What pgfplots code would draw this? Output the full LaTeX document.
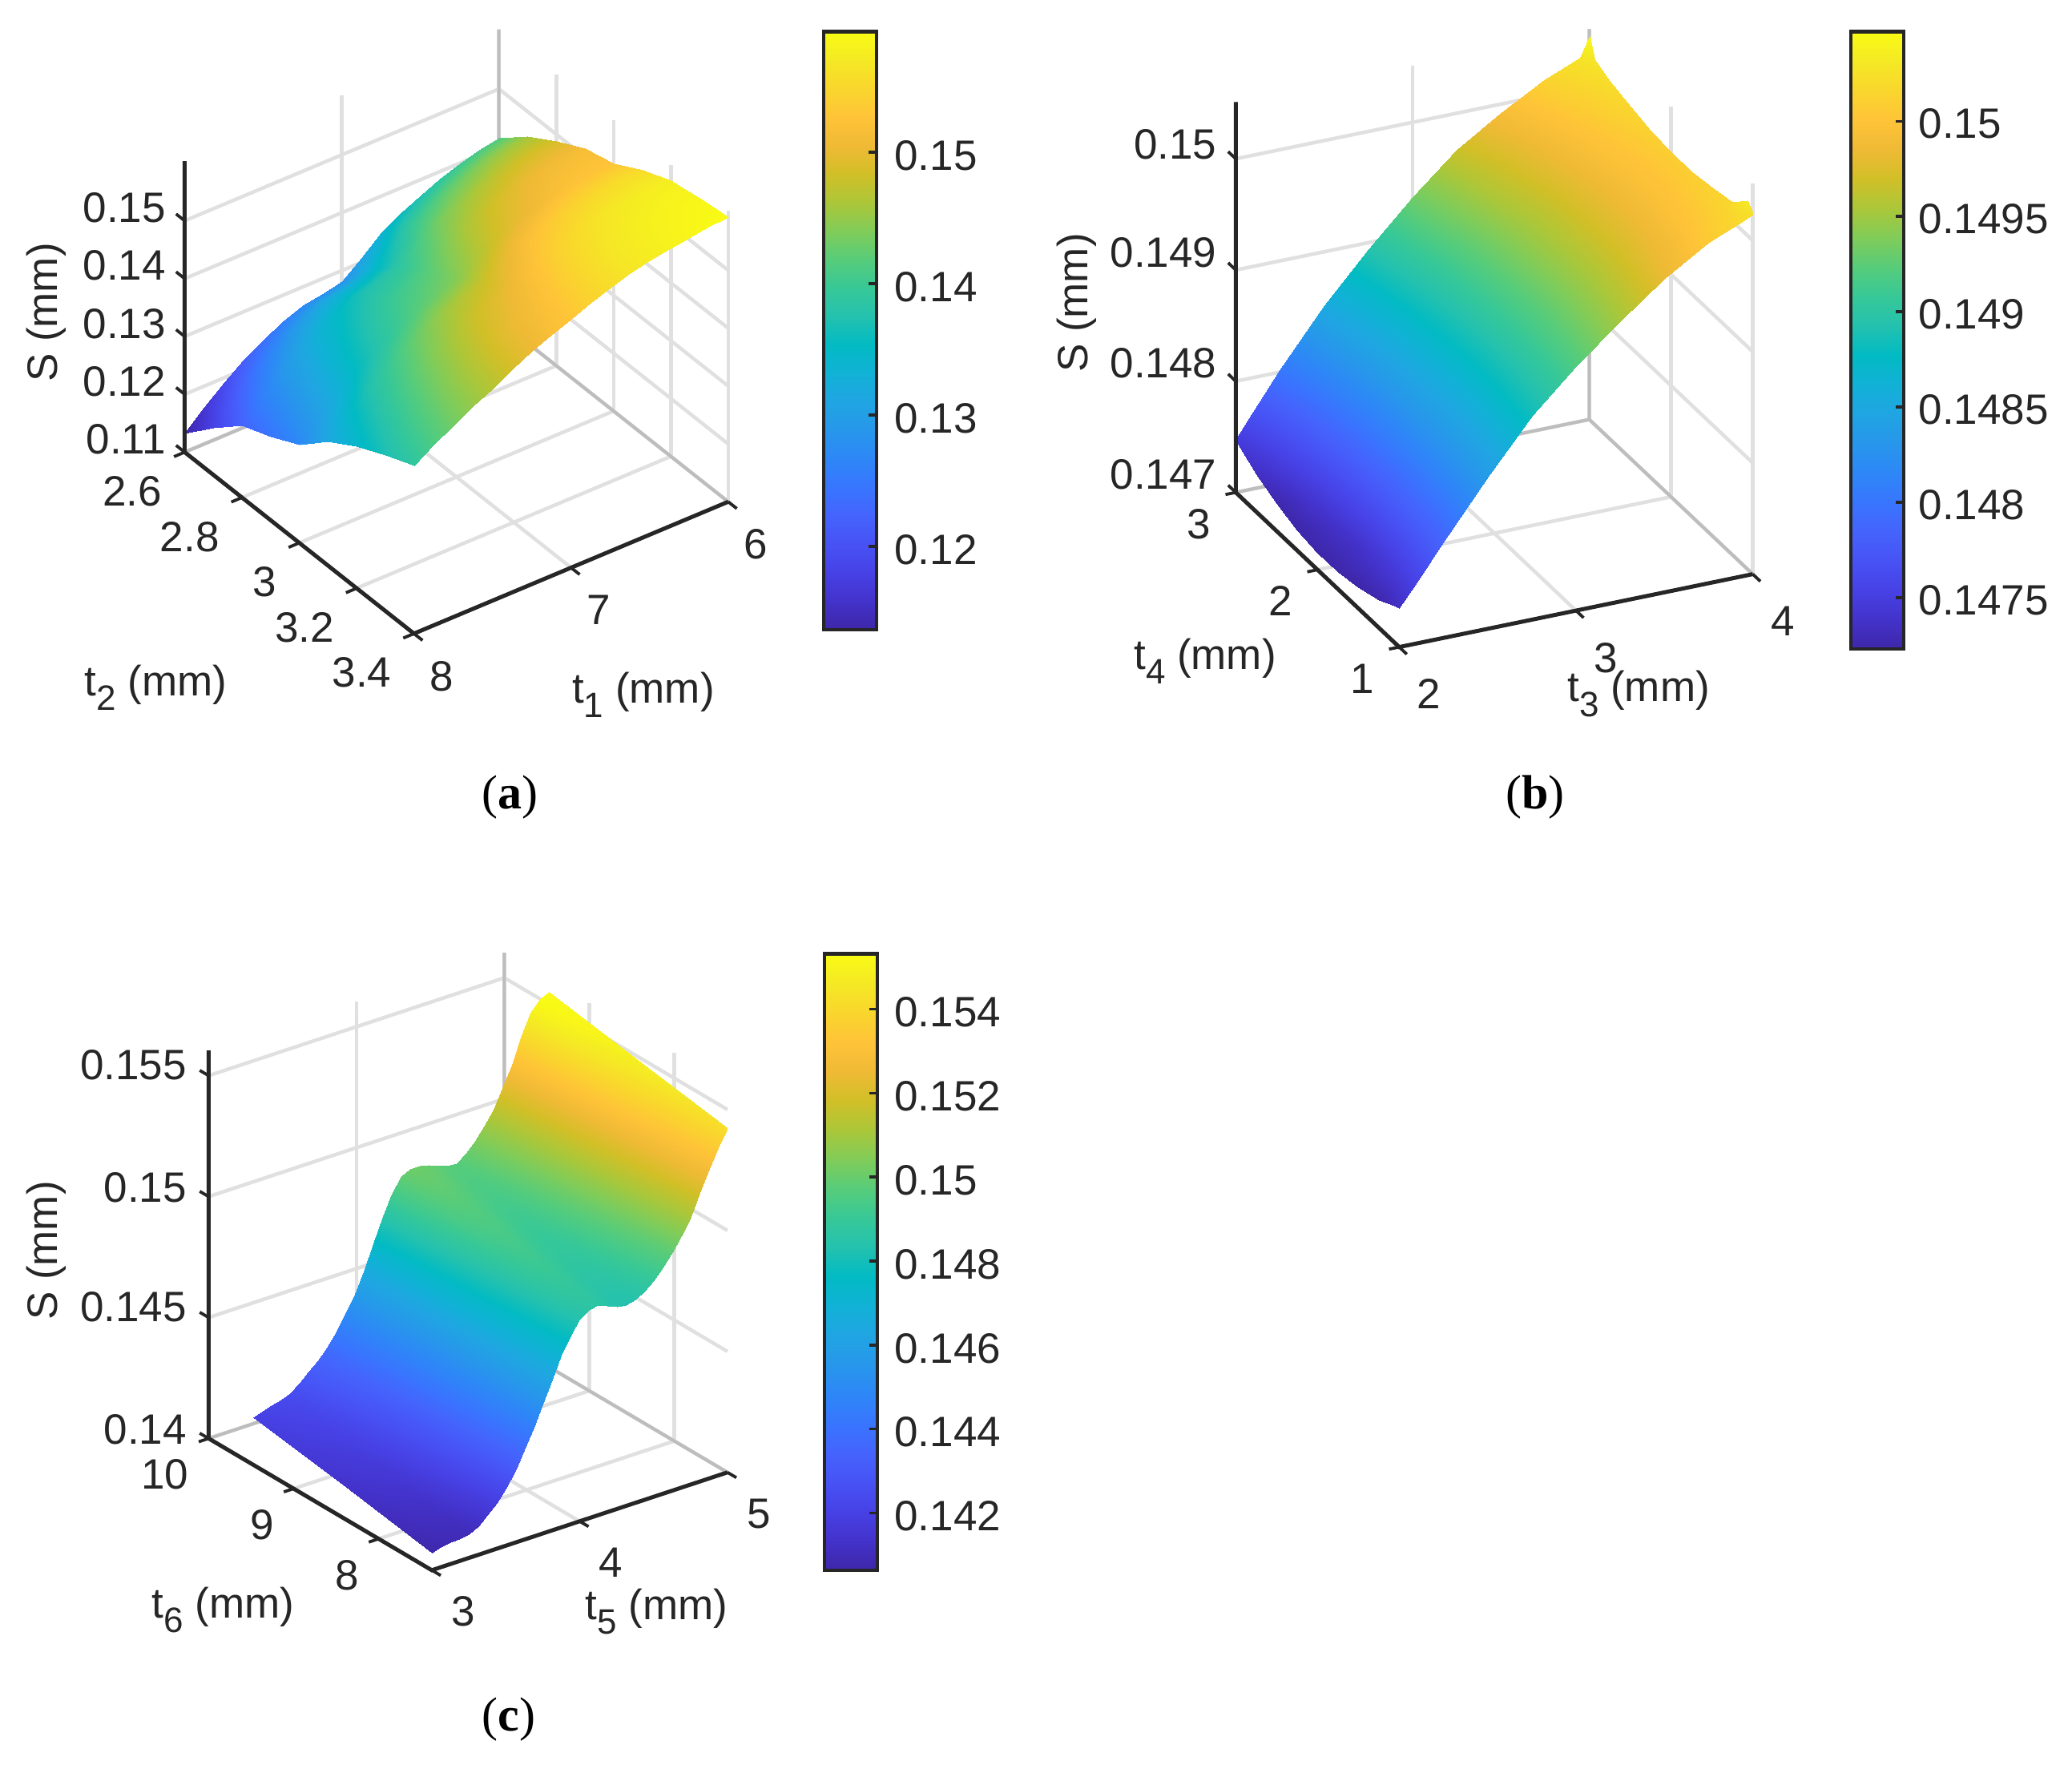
\documentclass[border=0pt]{standalone}
\usepackage{fontspec}
\setmainfont{Liberation Sans}
\newfontfamily\capfont{Liberation Serif}
\usepackage{pgfplots}
\pgfplotsset{compat=1.18}
\definecolor{txt}{HTML}{262626}
\definecolor{gridc}{HTML}{E0E0E0}
\definecolor{edgec}{HTML}{BDBDBD}
\newcommand{\tf}{\fontsize{5.3}{6.5}\selectfont}
\newcommand{\sbs}[1]{\raisebox{-.34em}{\fontsize{4.4}{4.4}\selectfont #1}}
\tikzset{tk/.style={draw=txt,line width=.38pt}}
\pgfplotsset{
  colormap={parula}{
    rgb=(.2422,.1504,.6603) rgb=(.2647,.1978,.7952) rgb=(.2783,.2559,.8991)
    rgb=(.2810,.3228,.9579) rgb=(.2699,.3892,.9906) rgb=(.2206,.4603,.9973)
    rgb=(.1786,.5289,.9682) rgb=(.1540,.5902,.9218) rgb=(.1248,.6459,.8883)
    rgb=(.0689,.6948,.8394) rgb=(.0067,.7312,.7660) rgb=(.1408,.7584,.6842)
    rgb=(.2161,.7843,.5923) rgb=(.3406,.8008,.4789) rgb=(.5044,.7993,.3480)
    rgb=(.6720,.7793,.2227) rgb=(.8203,.7498,.1535) rgb=(.9393,.7288,.2100)
    rgb=(.9970,.7659,.2199) rgb=(.9786,.8386,.1766) rgb=(.9597,.9135,.1423)
    rgb=(.9769,.9839,.0805)
  },
  panel/.style={
    anchor=south west,
    colormap name=parula,
    axis line style={draw=none},
    grid=major,
    grid style={draw=gridc,line width=.45pt},
    tick pos=left,
    tick align=outside,
    major tick length=1.2pt,
    tick style={draw=none},
    tick label style={font=\tf,text=txt},
    scaled ticks=false,
    clip=false,
  },
  bar/.style={
    colormap name=parula,
    colorbar style={
      anchor=south west,
      width=6.6pt,
      xtick=\empty,
      ytick pos=right,
      yticklabel pos=right,
      tick align=inside,
      major tick length=1pt,
      axis line style={draw=txt,line width=.45pt},
      tick style={draw=txt,line width=.35pt},
      yticklabel style={font=\tf,text=txt,anchor=west},
      scaled ticks=false,
    },
  },
}
\begin{document}
\begin{tikzpicture}
\useasboundingbox (0pt,0pt) rectangle (258.6pt,220.2pt);

% (a)
\begin{axis}[panel,at={(23.05pt,141.12pt)},
  x={(-19.61pt,-8.227pt)},y={(35.76pt,-28.3pt)},z={(0pt,722pt)},
  xmin=6,xmax=8,ymin=2.6,ymax=3.4,zmin=0.11,zmax=0.1603,
  point meta min=0.11366,point meta max=0.15918,
  xtick={6,7,8},xticklabels={6,7,8},
  ytick={2.6,2.8,3,3.2,3.4},yticklabels={2.6,2.8,3,3.2,3.4},
  ztick={0.11,0.12,0.13,0.14,0.15},zticklabels={0.11,0.12,0.13,0.14,0.15},
  xticklabel style={xshift=-.5pt,yshift=1.65pt},
  yticklabel style={anchor=east,xshift=1.8pt,yshift=-4.42pt},
  zticklabel style={xshift=2.1pt,yshift=-.33pt},
]
\draw[edgec,line width=.4pt] (axis cs:6,2.6,0.1603) -- (axis cs:6,2.6,0.11) -- (axis cs:8,2.6,0.11);
\draw[edgec,line width=.4pt] (axis cs:6,2.6,0.11) -- (axis cs:6,3.4,0.11);
\addplot3[surf,shader=interp,mesh/rows=9,mesh/cols=17] coordinates {
(8,2.6,.1133) (7.875,2.6,.1164) (7.75,2.6,.1192) (7.625,2.6,.1217) (7.5,2.6,.1238) (7.375,2.6,.1255) (7.25,2.6,.1268) (7.125,2.6,.1273) (7,2.6,.1282) (6.875,2.6,.1308) (6.75,2.6,.1337) (6.625,2.6,.1357) (6.5,2.6,.1373) (6.375,2.6,.1388) (6.25,2.6,.1400) (6.125,2.6,.1409) (6,2.6,.1415)
(8,2.7,.1181) (7.875,2.7,.1213) (7.75,2.7,.1242) (7.625,2.7,.1268) (7.5,2.7,.1291) (7.375,2.7,.1309) (7.25,2.7,.1323) (7.125,2.7,.1330) (7,2.7,.1340) (6.875,2.7,.1365) (6.75,2.7,.1392) (6.625,2.7,.1410) (6.5,2.7,.1425) (6.375,2.7,.1437) (6.25,2.7,.1447) (6.125,2.7,.1454) (6,2.7,.1458)
(8,2.8,.1225) (7.875,2.8,.1258) (7.75,2.8,.1287) (7.625,2.8,.1313) (7.5,2.8,.1336) (7.375,2.8,.1354) (7.25,2.8,.1369) (7.125,2.8,.1378) (7,2.8,.1388) (6.875,2.8,.1411) (6.75,2.8,.1435) (6.625,2.8,.1451) (6.5,2.8,.1463) (6.375,2.8,.1474) (6.25,2.8,.1482) (6.125,2.8,.1487) (6,2.8,.1488)
(8,2.9,.1245) (7.875,2.9,.1279) (7.75,2.9,.1309) (7.625,2.9,.1336) (7.5,2.9,.1359) (7.375,2.9,.1379) (7.25,2.9,.1396) (7.125,2.9,.1407) (7,2.9,.1419) (6.875,2.9,.1441) (6.75,2.9,.1464) (6.625,2.9,.1480) (6.5,2.9,.1492) (6.375,2.9,.1502) (6.25,2.9,.1509) (6.125,2.9,.1513) (6,2.9,.1515)
(8,3.0,.1270) (7.875,3.0,.1302) (7.75,3.0,.1331) (7.625,3.0,.1357) (7.5,3.0,.1380) (7.375,3.0,.1400) (7.25,3.0,.1418) (7.125,3.0,.1430) (7,3.0,.1443) (6.875,3.0,.1464) (6.75,3.0,.1484) (6.625,3.0,.1498) (6.5,3.0,.1509) (6.375,3.0,.1518) (6.25,3.0,.1524) (6.125,3.0,.1527) (6,3.0,.1528)
(8,3.1,.1315) (7.875,3.1,.1346) (7.75,3.1,.1373) (7.625,3.1,.1397) (7.5,3.1,.1419) (7.375,3.1,.1439) (7.25,3.1,.1456) (7.125,3.1,.1469) (7,3.1,.1481) (6.875,3.1,.1500) (6.75,3.1,.1518) (6.625,3.1,.1531) (6.5,3.1,.1541) (6.375,3.1,.1548) (6.25,3.1,.1553) (6.125,3.1,.1556) (6,3.1,.1556)
(8,3.2,.1345) (7.875,3.2,.1373) (7.75,3.2,.1399) (7.625,3.2,.1422) (7.5,3.2,.1443) (7.375,3.2,.1463) (7.25,3.2,.1481) (7.125,3.2,.1494) (7,3.2,.1507) (6.875,3.2,.1524) (6.75,3.2,.1541) (6.625,3.2,.1553) (6.5,3.2,.1562) (6.375,3.2,.1569) (6.25,3.2,.1573) (6.125,3.2,.1576) (6,3.2,.1577)
(8,3.3,.1370) (7.875,3.3,.1395) (7.75,3.3,.1418) (7.625,3.3,.1439) (7.5,3.3,.1459) (7.375,3.3,.1478) (7.25,3.3,.1495) (7.125,3.3,.1508) (7,3.3,.1521) (6.875,3.3,.1537) (6.75,3.3,.1552) (6.625,3.3,.1563) (6.5,3.3,.1571) (6.375,3.3,.1577) (6.25,3.3,.1581) (6.125,3.3,.1584) (6,3.3,.1586)
(8,3.4,.1390) (7.875,3.4,.1412) (7.75,3.4,.1432) (7.625,3.4,.1450) (7.5,3.4,.1467) (7.375,3.4,.1486) (7.25,3.4,.1503) (7.125,3.4,.1517) (7,3.4,.1530) (6.875,3.4,.1544) (6.75,3.4,.1556) (6.625,3.4,.1566) (6.5,3.4,.1574) (6.375,3.4,.1580) (6.25,3.4,.1585) (6.125,3.4,.1589) (6,3.4,.1592)
};
\draw[txt,line width=.5pt] (axis cs:8,2.6,0.1603) -- (axis cs:8,2.6,0.11) -- (axis cs:8,3.4,0.11) -- (axis cs:6,3.4,0.11);
\pgfplotsinvokeforeach{6,7,8}{\draw[tk] (axis cs:#1,3.4,0.11) -- (axis cs:#1,3.43,0.11);}
\pgfplotsinvokeforeach{2.6,2.8,3,3.2,3.4}{\draw[tk] (axis cs:8,#1,0.11) -- (axis cs:8.068,#1,0.11);}
\pgfplotsinvokeforeach{0.11,0.12,0.13,0.14,0.15}{\draw[tk] (axis cs:8,2.6,#1) -- (axis cs:8,2.57,#1);}
\end{axis}
\pgfplotscolorbardrawstandalone[bar,point meta min=0.11366,point meta max=0.15918,
  colorbar style={at={(94.27pt,141.6pt)},height=74.65pt,
    yticklabel style={xshift=-1.3pt,yshift=-.4pt},
    ytick={0.12,0.13,0.14,0.15},yticklabels={0.12,0.13,0.14,0.15}}]

% (b)
\begin{axis}[panel,at={(154.23pt,139.44pt)},
  x={(22.06pt,4.55pt)},y={(-10.2pt,9.65pt)},z={(0pt,13880pt)},
  xmin=2,xmax=4,ymin=1,ymax=3,zmin=0.147,zmax=0.15051,
  point meta min=0.14723,point meta max=0.15047,
  xtick={2,3,4},xticklabels={2,3,4},
  ytick={1,2,3},yticklabels={1,2,3},
  ztick={0.147,0.148,0.149,0.15},zticklabels={0.147,0.148,0.149,0.15},
  xticklabel style={xshift=.33pt,yshift=.85pt},
  yticklabel style={anchor=east,xshift=1.6pt,yshift=-3.69pt},
  zticklabel style={xshift=2pt,yshift=-1.5pt},
]
\draw[edgec,line width=.4pt] (axis cs:4,3,0.15051) -- (axis cs:4,3,0.147) -- (axis cs:2,3,0.147);
\draw[edgec,line width=.4pt] (axis cs:4,3,0.147) -- (axis cs:4,1,0.147);
\addplot3[surf,shader=interp,mesh/rows=11,mesh/cols=11] coordinates {
(2,1,.14735) (2.1,1,.14755) (2.25,1,.14786) (2.5,1,.14837) (2.75,1,.14883) (3,1,.14920) (3.25,1,.14952) (3.5,1,.14982) (3.75,1,.15006) (3.95,1,.15020) (4,1,.15024)
(2,1.06,.14733) (2.1,1.06,.14753) (2.25,1.06,.14784) (2.5,1.06,.14836) (2.75,1.06,.14882) (3,1.06,.14919) (3.25,1.06,.14951) (3.5,1.06,.14981) (3.75,1.06,.15005) (3.95,1.06,.15019) (4,1.06,.15032)
(2,1.25,.14725) (2.1,1.25,.14747) (2.25,1.25,.14779) (2.5,1.25,.14832) (2.75,1.25,.14879) (3,1.25,.14916) (3.25,1.25,.14948) (3.5,1.25,.14977) (3.75,1.25,.15000) (3.95,1.25,.15014) (4,1.25,.15017)
(2,1.5,.14719) (2.1,1.5,.14741) (2.25,1.5,.14775) (2.5,1.5,.14830) (2.75,1.5,.14876) (3,1.5,.14914) (3.25,1.5,.14945) (3.5,1.5,.14973) (3.75,1.5,.14996) (3.95,1.5,.15010) (4,1.5,.15013)
(2,1.75,.14715) (2.1,1.75,.14738) (2.25,1.75,.14773) (2.5,1.75,.14829) (2.75,1.75,.14875) (3,1.75,.14913) (3.25,1.75,.14945) (3.5,1.75,.14972) (3.75,1.75,.14994) (3.95,1.75,.15007) (4,1.75,.15010)
(2,2,.14715) (2.1,2,.14739) (2.25,2,.14774) (2.5,2,.14830) (2.75,2,.14876) (3,2,.14914) (3.25,2,.14946) (3.5,2,.14972) (3.75,2,.14994) (3.95,2,.15007) (4,2,.15010)
(2,2.25,.14718) (2.1,2.25,.14742) (2.25,2.25,.14777) (2.5,2.25,.14832) (2.75,2.25,.14878) (3,2.25,.14916) (3.25,2.25,.14948) (3.5,2.25,.14974) (3.75,2.25,.14996) (3.95,2.25,.15009) (4,2.25,.15012)
(2,2.5,.14725) (2.1,2.5,.14748) (2.25,2.5,.14783) (2.5,2.5,.14837) (2.75,2.5,.14882) (3,2.5,.14920) (3.25,2.5,.14953) (3.5,2.5,.14978) (3.75,2.5,.15000) (3.95,2.5,.15013) (4,2.5,.15016)
(2,2.75,.14734) (2.1,2.75,.14757) (2.25,2.75,.14791) (2.5,2.75,.14844) (2.75,2.75,.14887) (3,2.75,.14926) (3.25,2.75,.14959) (3.5,2.75,.14984) (3.75,2.75,.15006) (3.95,2.75,.15019) (4,2.75,.15022)
(2,2.94,.14744) (2.1,2.94,.14766) (2.25,2.94,.14799) (2.5,2.94,.14850) (2.75,2.94,.14892) (3,2.94,.14931) (3.25,2.94,.14965) (3.5,2.94,.14990) (3.75,2.94,.15012) (3.95,2.94,.15025) (4,2.94,.15028)
(2,3,.14747) (2.1,3,.14769) (2.25,3,.14802) (2.5,3,.14852) (2.75,3,.14894) (3,3,.14933) (3.25,3,.14967) (3.5,3,.14992) (3.75,3,.15014) (3.95,3,.15027) (4,3,.15045)
};
\draw[txt,line width=.5pt] (axis cs:2,3,0.15051) -- (axis cs:2,3,0.147) -- (axis cs:2,1,0.147) -- (axis cs:4,1,0.147);
\pgfplotsinvokeforeach{2,3,4}{\draw[tk] (axis cs:#1,1,0.147) -- (axis cs:#1,0.907,0.147);}
\pgfplotsinvokeforeach{1,2,3}{\draw[tk] (axis cs:2,#1,0.147) -- (axis cs:1.942,#1,0.147);}
\pgfplotsinvokeforeach{0.147,0.148,0.149,0.15}{\draw[tk] (axis cs:2,3,#1) -- (axis cs:2,3.093,#1);}
\end{axis}
\pgfplotscolorbardrawstandalone[bar,point meta min=0.14723,point meta max=0.15047,
  colorbar style={at={(222.47pt,139.2pt)},height=77.05pt,
    yticklabel style={xshift=-.38pt,yshift=.1pt},
    ytick={0.1475,0.148,0.1485,0.149,0.1495,0.15},yticklabels={0.1475,0.148,0.1485,0.149,0.1495,0.15}}]

% (c)
\begin{axis}[panel,at={(26.04pt,24.22pt)},
  x={(18.45pt,6.105pt)},y={(-10.61pt,6.263pt)},z={(0pt,3019pt)},
  xmin=3,xmax=5,ymin=7.375,ymax=10,zmin=0.14,zmax=0.15604,
  point meta min=0.14064,point meta max=0.15532,
  xtick={3,4,5},xticklabels={3,4,5},
  ytick={8,9,10},yticklabels={8,9,10},
  ztick={0.14,0.145,0.15,0.155},zticklabels={0.14,0.145,0.15,0.155},
  xticklabel style={xshift=-.5pt,yshift=1.4pt},
  yticklabel style={anchor=east,xshift=2.17pt,yshift=-4.14pt},
  zticklabel style={xshift=1.8pt,yshift=-.4pt},
]
\draw[edgec,line width=.4pt] (axis cs:5,10,0.15604) -- (axis cs:5,10,0.14) -- (axis cs:3,10,0.14);
\draw[edgec,line width=.4pt] (axis cs:5,10,0.14) -- (axis cs:5,7.375,0.14);
\addplot3[surf,shader=interp,mesh/rows=3,mesh/cols=33] coordinates {
(3,7.375,.14071) (3.0625,7.375,.14082) (3.125,7.375,.14091) (3.1875,7.375,.14092) (3.25,7.375,.14098) (3.3125,7.375,.14120) (3.375,7.375,.14151) (3.4375,7.375,.14188) (3.5,7.375,.14236) (3.5625,7.375,.14298) (3.625,7.375,.14370) (3.6875,7.375,.14450) (3.75,7.375,.14535) (3.8125,7.375,.14625) (3.875,7.375,.14710) (3.9375,7.375,.14781) (4,7.375,.14835) (4.0625,7.375,.14861) (4.125,7.375,.14868) (4.1875,7.375,.14853) (4.25,7.375,.14835) (4.3125,7.375,.14832) (4.375,7.375,.14840) (4.4375,7.375,.14862) (4.5,7.375,.14895) (4.5625,7.375,.14936) (4.625,7.375,.14985) (4.6875,7.375,.15041) (4.75,7.375,.15108) (4.8125,7.375,.15192) (4.875,7.375,.15279) (4.9375,7.375,.15352) (5,7.375,.15422)
(3,8.425,.14135) (3.0625,8.425,.14146) (3.125,8.425,.14157) (3.1875,8.425,.14162) (3.25,8.425,.14173) (3.3125,8.425,.14198) (3.375,8.425,.14231) (3.4375,8.425,.14266) (3.5,8.425,.14309) (3.5625,8.425,.14367) (3.625,8.425,.14435) (3.6875,8.425,.14510) (3.75,8.425,.14592) (3.8125,8.425,.14688) (3.875,8.425,.14780) (3.9375,8.425,.14857) (4,8.425,.14913) (4.0625,8.425,.14935) (4.125,8.425,.14938) (4.1875,8.425,.14926) (4.25,8.425,.14910) (4.3125,8.425,.14902) (4.375,8.425,.14905) (4.4375,8.425,.14929) (4.5,8.425,.14965) (4.5625,8.425,.15009) (4.625,8.425,.15063) (4.6875,8.425,.15128) (4.75,8.425,.15204) (4.8125,8.425,.15297) (4.875,8.425,.15385) (4.9375,8.425,.15444) (5,8.425,.15486)
(3,9.475,.14198) (3.0625,9.475,.14209) (3.125,9.475,.14222) (3.1875,9.475,.14232) (3.25,9.475,.14247) (3.3125,9.475,.14276) (3.375,9.475,.14310) (3.4375,9.475,.14343) (3.5,9.475,.14382) (3.5625,9.475,.14436) (3.625,9.475,.14500) (3.6875,9.475,.14569) (3.75,9.475,.14648) (3.8125,9.475,.14750) (3.875,9.475,.14850) (3.9375,9.475,.14932) (4,9.475,.14990) (4.0625,9.475,.15009) (4.125,9.475,.15008) (4.1875,9.475,.14999) (4.25,9.475,.14985) (4.3125,9.475,.14972) (4.375,9.475,.14970) (4.4375,9.475,.14995) (4.5,9.475,.15035) (4.5625,9.475,.15082) (4.625,9.475,.15140) (4.6875,9.475,.15215) (4.75,9.475,.15300) (4.8125,9.475,.15401) (4.875,9.475,.15490) (4.9375,9.475,.15535) (5,9.475,.15550)
};
\draw[txt,line width=.5pt] (axis cs:3,10,0.15604) -- (axis cs:3,10,0.14) -- (axis cs:3,7.375,0.14) -- (axis cs:5,7.375,0.14);
\pgfplotsinvokeforeach{3,4,5}{\draw[tk] (axis cs:#1,7.375,0.14) -- (axis cs:#1,7.27,0.14);}
\pgfplotsinvokeforeach{8,9,10}{\draw[tk] (axis cs:3,#1,0.14) -- (axis cs:2.933,#1,0.14);}
\pgfplotsinvokeforeach{0.14,0.145,0.15,0.155}{\draw[tk] (axis cs:3,10,#1) -- (axis cs:3,10.105,#1);}
\end{axis}
\pgfplotscolorbardrawstandalone[bar,point meta min=0.14064,point meta max=0.15532,
  colorbar style={at={(94.37pt,24.22pt)},height=76.95pt,
    yticklabel style={xshift=.28pt,yshift=-.1pt},
    ytick={0.142,0.144,0.146,0.148,0.15,0.152,0.154},yticklabels={0.142,0.144,0.146,0.148,0.15,0.152,0.154}}]

% labels
\begin{scope}[every node/.style={font=\tf,text=txt,inner sep=0pt}]
\node[rotate=90] at (5.77pt,181.2pt) {S (mm)};
\node at (19.46pt,134.4pt) {t\sbs{2} (mm)};
\node at (80.3pt,133.5pt) {t\sbs{1} (mm)};
\node[rotate=90] at (134.4pt,182.4pt) {S (mm)};
\node at (150.4pt,137.7pt) {t\sbs{4} (mm)};
\node at (204.5pt,133.6pt) {t\sbs{3} (mm)};
\node[rotate=90] at (5.77pt,64.1pt) {S (mm)};
\node at (27.87pt,19.3pt) {t\sbs{6} (mm)};
\node at (81.95pt,19.1pt) {t\sbs{5} (mm)};
\end{scope}
\begin{scope}[every node/.style={font=\capfont\fontsize{6}{7}\selectfont,text=black,inner sep=0pt}]
\node at (63.65pt,120.7pt) {(\textbf{a})};
\node at (191.6pt,120.7pt) {(\textbf{b})};
\node at (63.5pt,5.6pt) {(\textbf{c})};
\end{scope}
\end{tikzpicture}
\end{document}
